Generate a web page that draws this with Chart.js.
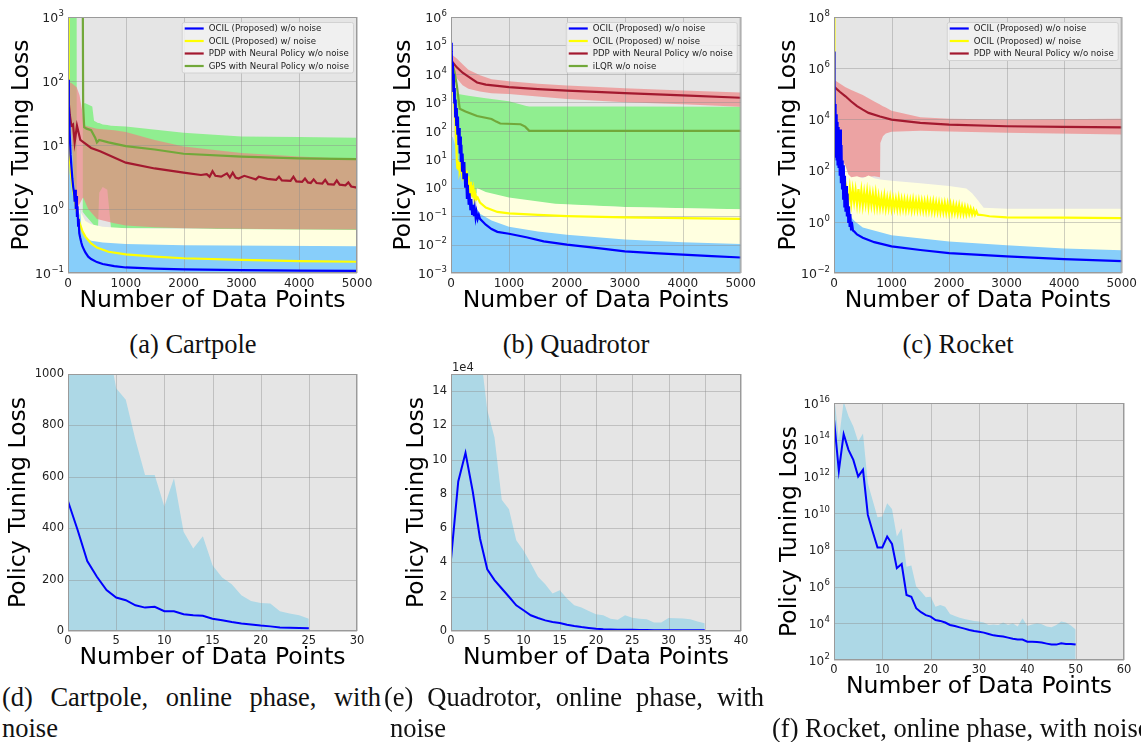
<!DOCTYPE html>
<html>
<head>
<meta charset="utf-8">
<script src="https://cdn.jsdelivr.net/npm/chart.js@4.4.0/dist/chart.umd.min.js"></script>
<style>
body { margin: 0; width: 1141px; height: 742px; background: #fff; position: relative; overflow: hidden; }
canvas { position: absolute; }
.cap { position: absolute; font-family: 'Liberation Serif'; font-size: 26.5px; line-height: 28px; color: #111; white-space: nowrap; }
.just { display: flex; justify-content: space-between; }
</style>
</head>
<body>
<canvas id="pa" width="380" height="320" style="left:0;top:0"></canvas>
<canvas id="pb" width="380" height="320" style="left:380px;top:0"></canvas>
<canvas id="pc" width="381" height="320" style="left:760px;top:0"></canvas>
<canvas id="pd" width="380" height="320" style="left:0;top:360px"></canvas>
<canvas id="pe" width="380" height="320" style="left:380px;top:360px"></canvas>
<canvas id="pf" width="381" height="382" style="left:760px;top:360px"></canvas>

<div class="cap" style="left:0;top:330px;width:386px;text-align:center">(a) Cartpole</div>
<div class="cap" style="left:380px;top:330px;width:392px;text-align:center">(b) Quadrotor</div>
<div class="cap" style="left:760px;top:330px;width:396px;text-align:center">(c) Rocket</div>
<div class="cap just" style="left:2px;top:683px;width:379px"><span>(d)</span><span>Cartpole,</span><span>online</span><span>phase,</span><span>with</span></div>
<div class="cap" style="left:2px;top:714px">noise</div>
<div class="cap just" style="left:384px;top:683px;width:380px"><span>(e)</span><span>Quadrotor,</span><span>online</span><span>phase,</span><span>with</span></div>
<div class="cap" style="left:390px;top:714px">noise</div>
<div class="cap" style="left:772px;top:714px">(f) Rocket, online phase, with noise</div>

<script>
// ---------- (a) Cartpole ----------
var aXTicks = [0, 1000, 2000, 3000, 4000, 5000];
var aYTicks = [0.1, 1, 10, 100, 1000];
var aYExp = ['−1', '0', '1', '2', '3'];
var aLegend = ['OCIL (Proposed) w/o noise', 'OCIL (Proposed) w/ noise', 'PDP with Neural Policy w/o noise', 'GPS with Neural Policy w/o noise'];

var aBlueX = [0, 15, 30, 45, 60, 75, 90, 105, 115, 125, 135, 145, 155, 165, 175, 185, 195, 210, 230, 250, 300, 350, 400, 500, 600, 800, 1000, 1500, 2000, 3000, 4000, 5000];
var aBlueY = [105, 40, 15, 7, 4.5, 3.0, 2.2, 1.8, 1.3, 2.0, 1.0, 1.6, 0.75, 1.1, 0.55, 0.7, 0.42, 0.36, 0.3, 0.26, 0.21, 0.18, 0.165, 0.148, 0.138, 0.128, 0.122, 0.117, 0.114, 0.111, 0.109, 0.108];
var aYellowX = [0, 10, 14, 25, 50, 80, 120, 160, 200, 250, 300, 400, 500, 700, 1000, 1500, 2000, 3000, 4000, 5000];
var aYellowY = [3000, 1500, 40, 8, 3.5, 2.2, 1.3, 0.85, 0.6, 0.45, 0.37, 0.29, 0.25, 0.215, 0.195, 0.18, 0.17, 0.16, 0.153, 0.15];
var aPdpX = [0, 30, 58, 87, 115, 155, 213, 300, 400, 555, 700, 1000, 1500, 2000, 2300, 2400, 2450, 2500, 2550, 2650, 2750, 2800, 2850, 2900, 2950, 3050, 3200, 3250, 3300, 3450, 3600, 3650, 3700, 3850, 3900, 3950, 4050, 4100, 4150, 4200, 4250, 4300, 4400, 4450, 4500, 4600, 4650, 4700, 4800, 4850, 4900, 5000];
var aPdpY = [65, 30, 20, 21, 11, 20, 12, 10.5, 9, 8, 7, 5.3, 4.3, 3.7, 3.4, 3.5, 3.2, 3.9, 3.3, 3.2, 3.6, 3.1, 3.7, 3.1, 3.0, 3.3, 3.0, 2.9, 3.2, 2.95, 2.85, 3.2, 2.8, 2.75, 3.2, 2.7, 2.65, 3.0, 2.6, 2.55, 2.9, 2.55, 2.5, 2.85, 2.45, 2.4, 2.8, 2.4, 2.35, 2.6, 2.25, 2.15];
var aGpsX = [255, 262, 280, 320, 400, 470, 500, 540, 700, 1000, 1500, 2000, 3000, 4000, 5000];
var aGpsY = [3000, 40, 19, 18, 17, 13, 11, 12, 11, 9.6, 8.5, 7.3, 6.6, 6.2, 6.0];

var aBlueBandX = [0, 50, 100, 150, 200, 210, 230, 250, 300, 400, 600, 1000, 2000, 5000];
var aBlueBandHi = [100, 20, 3, 1.2, 0.8, 1.0, 0.55, 0.45, 0.36, 0.32, 0.3, 0.285, 0.272, 0.262];
var aYellowBandX = [0, 10, 30, 60, 100, 150, 200, 250, 300, 400, 600, 1000, 2000, 5000];
var aYellowBandHi = [1000, 30, 8, 3, 1.6, 1.1, 0.95, 0.8, 0.65, 0.58, 0.53, 0.5, 0.49, 0.47];
var aPdpBandX = [0, 50, 150, 200, 255, 265, 350, 500, 800, 1000, 1500, 2000, 3000, 4000, 5000];
var aPdpBandHi = [90, 95, 80, 60, 30, 20.5, 19.5, 18, 17, 16, 12, 9.5, 7.5, 6.6, 6.0];
var aPdpBandLo = [1, 1, 1, 1.2, 1.5, 1.5, 1.0, 0.7, 0.6, 0.55, 0.52, 0.5, 0.49, 0.48, 0.48];
var aGpsBandX = [0, 150, 151, 254, 256, 300, 420, 450, 519, 540, 600, 680, 744, 1000, 2000, 3000, 4000, 5000];
var aGpsBandHi = [5000, 5000, 1, 1, 45, 45, 40, 24, 22, 22, 21, 20.5, 20, 19.5, 15.5, 13.6, 13.3, 13];
var aGpsBandLo = [0.5, 0.5, 1, 1, 0.9, 0.8, 0.6, 0.55, 0.5, 1.8, 2.2, 2.0, 0.5, 0.5, 0.5, 0.48, 0.47, 0.47];

// ---------- (b) Quadrotor ----------
var bXTicks = [0, 1000, 2000, 3000, 4000, 5000];
var bYTicks = [1e-3, 1e-2, 1e-1, 1, 10, 100, 1e3, 1e4, 1e5, 1e6];
var bYExp = ['−3', '−2', '−1', '0', '1', '2', '3', '4', '5', '6'];
var bLegend = ['OCIL (Proposed) w/o noise', 'OCIL (Proposed) w/ noise', 'PDP with Neural Policy w/o noise', 'iLQR w/o noise'];

var bBlueX = [0, 8, 16, 24, 32, 40, 48, 56, 64, 72, 80, 90, 100, 110, 120, 130, 140, 150, 160, 170, 180, 190, 200, 215, 230, 245, 260, 275, 290, 305, 320, 335, 350, 365, 380, 395, 410, 425, 440, 460, 480, 500, 550, 600, 700, 800, 1000, 1300, 1600, 2000, 2500, 3000, 3500, 4000, 4500, 5000];
var bBlueY = [125000, 20000, 63000, 8000, 25000, 2500, 10000, 1000, 3200, 320, 1260, 160, 630, 80, 320, 32, 126, 16, 63, 8, 32, 4, 16, 2, 8, 1, 3.2, 0.4, 1.26, 0.25, 0.63, 0.16, 0.4, 0.11, 0.25, 0.1, 0.18, 0.09, 0.14, 0.08, 0.11, 0.08, 0.063, 0.05, 0.035, 0.028, 0.024, 0.018, 0.013, 0.01, 0.0076, 0.0058, 0.005, 0.0044, 0.0039, 0.0035];
var bYellowX = [0, 40, 80, 100, 110, 120, 130, 140, 150, 170, 190, 210, 225, 240, 255, 270, 285, 300, 315, 330, 345, 360, 375, 390, 405, 420, 440, 460, 500, 600, 800, 1000, 1500, 2000, 3000, 4000, 5000];
var bYellowY = [30000, 3000, 160, 9, 5, 9, 4, 8, 4, 6, 3, 7, 2, 5, 1.2, 4, 0.8, 2.5, 0.6, 1.6, 0.5, 1.2, 0.45, 0.8, 0.4, 0.6, 0.4, 0.45, 0.3, 0.2, 0.14, 0.125, 0.11, 0.1, 0.09, 0.085, 0.08];
var bPdpX = [0, 100, 200, 300, 450, 600, 800, 1000, 1500, 2000, 3000, 4000, 5000];
var bPdpY = [30000, 17000, 11000, 8000, 5000, 4200, 3800, 3400, 2900, 2600, 2100, 1750, 1450];
var bIlqrX = [0, 30, 60, 100, 150, 250, 450, 700, 780, 850, 1200, 1280, 1350, 5000];
var bIlqrY = [40000, 20000, 12000, 4000, 600, 480, 330, 260, 210, 180, 170, 140, 100, 100];

var bBlueBandX = [0, 30, 100, 200, 300, 400, 500, 700, 1000, 1500, 2000, 3000, 4000, 5000];
var bBlueBandHi = [60, 60, 20, 3, 0.6, 0.25, 0.12, 0.07, 0.042, 0.029, 0.022, 0.015, 0.012, 0.0105];
var bYellowBandX = [440, 600, 1000, 1800, 3000, 5000];
var bYellowBandHi = [1.0, 0.7, 0.45, 0.27, 0.21, 0.175];
var bPdpBandX = [0, 100, 200, 300, 500, 700, 1000, 1500, 2000, 3000, 4000, 5000];
var bPdpBandHi = [50000, 35000, 22000, 14000, 9000, 6500, 5500, 4500, 3900, 3100, 2600, 2200];
var bPdpBandLo = [15000, 7000, 4000, 3000, 2400, 2100, 1950, 1600, 1300, 1000, 850, 700];
var bIlqrBandX = [60, 100, 300, 600, 1000, 1300, 1350, 2000, 3000, 5000];
var bIlqrBandHi = [3000, 2000, 1700, 1400, 1100, 750, 720, 715, 710, 700];
var bIlqrBandLo = [1, 1, 0.8, 0.5, 0.35, 0.3, 0.29, 0.25, 0.21, 0.17];

// ---------- (c) Rocket ----------
var cXTicks = [0, 1000, 2000, 3000, 4000, 5000];
var cYTicks = [1e-2, 1, 1e2, 1e4, 1e6, 1e8];
var cYExp = ['−2', '0', '2', '4', '6', '8'];
var cLegend = ['OCIL (Proposed) w/o noise', 'OCIL (Proposed) w/ noise', 'PDP with Neural Policy w/o noise'];

var cBlueX = [0, 6, 12, 18, 24, 30, 38, 46, 54, 62, 70, 80, 90, 100, 110, 120, 130, 140, 150, 160, 170, 180, 190, 200, 212, 224, 236, 248, 260, 272, 284, 296, 310, 330, 350, 400, 500, 700, 1000, 1500, 2000, 3000, 4000, 5000];
var cBlueY = [4.5e6, 3200, 4e5, 1000, 40000, 320, 16000, 250, 8000, 160, 5000, 126, 3200, 63, 4000, 32, 1000, 20, 250, 8, 160, 4, 63, 2.5, 25, 1.6, 12.6, 1, 4, 0.63, 2, 0.5, 1, 0.45, 0.42, 0.32, 0.24, 0.16, 0.11, 0.079, 0.06, 0.045, 0.035, 0.029];
var cYellowX = [0, 5, 10, 30, 60, 100, 150, 200, 225,
    250, 275, 300, 325, 350, 375, 400, 425, 450, 475,
    500, 525, 550, 575, 600, 625, 650, 675, 700, 725,
    750, 775, 800, 825, 850, 875, 900, 925, 950, 975,
    1000, 1025, 1050, 1075, 1100, 1125, 1150, 1175, 1200, 1225,
    1250, 1275, 1300, 1325, 1350, 1375, 1400, 1425, 1450, 1475,
    1500, 1525, 1550, 1575, 1600, 1625, 1650, 1675, 1700, 1725,
    1750, 1775, 1800, 1825, 1850, 1875, 1900, 1925, 1950, 1975,
    2000, 2025, 2050, 2075, 2100, 2125, 2150, 2175, 2200, 2225,
    2250, 2275, 2300, 2325, 2350, 2375, 2400, 2425, 2450, 2475,
    2500, 2600, 2700, 3000, 4000, 5000];
var cYellowY = [1e9, 1e7, 3e4, 2000, 800, 300, 120, 30, 12,
    6, 20, 5.5, 18, 6, 17, 5, 19, 5, 16,
    4.5, 14, 5, 15, 4.2, 13, 4.5, 12, 4, 12.5,
    3.8, 10, 3.6, 9, 3.7, 10, 3.4, 8.5, 3.5, 8.8,
    3.3, 8, 3.4, 7.6, 3.2, 8.2, 3.1, 7.4, 3.2, 7.2,
    3.0, 7.0, 3.1, 6.8, 2.9, 7.2, 3.0, 6.6, 2.9, 6.7,
    2.9, 6.5, 2.8, 6.2, 2.7, 6.4, 2.7, 5.9, 2.6, 6.0,
    2.5, 5.6, 2.5, 5.5, 2.4, 5.2, 2.4, 5.3, 2.3, 5.0,
    2.2, 4.8, 2.2, 4.6, 2.2, 4.3, 2.1, 4.4, 2.1, 4.0,
    2.05, 3.8, 2.0, 3.6, 2.0, 3.3, 1.95, 3.0, 1.9, 2.6,
    1.9, 1.8, 1.65, 1.5, 1.45, 1.4];
var cPdpX = [0, 100, 200, 300, 400, 500, 600, 800, 1000, 1500, 2000, 3000, 4000, 5000];
var cPdpY = [190000, 120000, 80000, 50000, 33000, 24000, 18000, 13000, 9800, 7300, 6300, 5400, 5100, 4900];

var cBlueBandX = [0, 20, 50, 100, 150, 200, 250, 300, 350, 500, 1000, 2000, 3000, 4000, 5000];
var cBlueBandHi = [2e5, 5e4, 1e4, 1e3, 100, 20, 5, 1.5, 1.1, 0.6, 0.3, 0.17, 0.12, 0.09, 0.077];
var cYellowBandX = [0, 8, 30, 100, 150, 200, 250, 300, 400, 500, 600, 700, 800, 1000, 1500, 2000, 2300, 2400, 2500, 2600, 3000, 5000];
var cYellowBandHi = [1e9, 1e5, 500, 300, 250, 150, 70, 55, 60, 50, 65, 50, 45, 40, 32, 25, 20, 13, 7, 3.5, 3.2, 3.2];
var cPdpBandX = [0, 100, 200, 300, 500, 700, 800, 805, 850, 900, 1000, 1500, 2000, 3000, 5000];
var cPdpBandHi = [350000, 250000, 180000, 140000, 90000, 50000, 38000, 37500, 33000, 29000, 22000, 12000, 10500, 10000, 10500];
var cPdpBandLo = [1000, 200, 60, 50, 55, 60, 55, 1200, 2200, 2800, 3300, 3600, 3400, 3000, 2600];

// ---------- (d) Cartpole, online ----------
var dXTicks = [0, 5, 10, 15, 20, 25, 30];
var dYTicks = [0, 200, 400, 600, 800, 1000];
var dX = [0, 1, 2, 3, 4, 5, 6, 7, 8, 9, 10, 11, 12, 13, 14, 15, 16, 17, 18, 19, 20, 21, 22, 23, 24, 25];
var dMean = [505, 393, 272, 211, 159, 130, 120, 100, 91, 94, 77, 77, 65, 61, 59, 48, 42, 35, 29, 25, 21, 18, 14, 13, 12, 11];
var dUpper = [1800, 1600, 1450, 1300, 1150, 945, 900, 744, 607, 607, 484, 594, 386, 321, 369, 256, 208, 182, 139, 117, 109, 107, 77, 68, 61, 48];

// ---------- (e) Quadrotor, online (values in units of 1e4) ----------
var eXTicks = [0, 5, 10, 15, 20, 25, 30, 35, 40];
var eYTicks = [0, 2, 4, 6, 8, 10, 12, 14];
var eX = [0, 1, 2, 3, 4, 5, 6, 7, 8, 9, 10, 11, 12, 13, 14, 15, 16, 17, 18, 19, 20, 21, 22, 23, 24, 25, 26, 27, 28, 29, 30, 31, 32, 33, 34, 35];
var eMean = [4.2, 8.73, 10.4, 8.14, 5.4, 3.6, 2.97, 2.48, 2.0, 1.5, 1.21, 0.92, 0.76, 0.62, 0.53, 0.47, 0.37, 0.29, 0.23, 0.18, 0.13, 0.1, 0.09, 0.08, 0.07, 0.07, 0.06, 0.06, 0.05, 0.05, 0.05, 0.05, 0.04, 0.04, 0.04, 0.04];
var eUpper = [20, 19, 18, 17, 16.5, 12.9, 11.3, 7.66, 7.1, 5.3, 4.7, 3.95, 3.16, 2.73, 2.19, 2.38, 1.9, 1.5, 1.37, 1.17, 0.98, 0.92, 0.72, 0.66, 0.92, 0.78, 0.72, 0.68, 0.49, 0.49, 0.76, 0.75, 0.73, 0.68, 0.55, 0.45];

// ---------- (f) Rocket, online ----------
var fXTicks = [0, 10, 20, 30, 40, 50, 60];
var fYTicks = [1e2, 1e4, 1e6, 1e8, 1e10, 1e12, 1e14, 1e16];
var fYExp = ['2', '4', '6', '8', '10', '12', '14', '16'];
var fX = [0, 1, 2, 3, 4, 5, 6, 7, 8, 9, 10, 11, 12, 13, 14, 15, 16, 17, 18, 19, 20, 21, 22, 23, 24, 25, 26, 27, 28, 29, 30, 31, 32, 33, 34, 35, 36, 37, 38, 39, 40, 41, 42, 43, 44, 45, 46, 47, 48, 49, 50];
var fMean = [1.3e15, 2e12, 2e14, 2.8e13, 8e12, 1e12, 2.3e12, 8e9, 1e9, 1.35e8, 1.35e8, 5.3e8, 2.1e8, 1e7, 1.7e7, 3.5e5, 2.8e5, 6.6e4, 4e4, 2.8e4, 2.3e4, 1.5e4, 1.35e4, 1.1e4, 8.1e3, 7.1e3, 6e3, 5.1e3, 4.3e3, 3.8e3, 3.5e3, 3.1e3, 2.6e3, 2.2e3, 2.05e3, 1.9e3, 1.65e3, 1.45e3, 1.3e3, 1.3e3, 1e3, 1e3, 950, 890, 780, 690, 690, 810, 750, 750, 690];
var fUpper = [3e16, 1e14, 1.2e16, 1.9e15, 5.3e14, 8e13, 2.2e14, 4.3e11, 5e10, 6e9, 6.5e9, 3.5e10, 1.7e10, 5.4e8, 1.5e9, 1.2e7, 1.4e7, 1e6, 5.4e5, 2.6e5, 2.8e5, 8e4, 1e5, 8e4, 3.2e4, 2.5e4, 2e4, 1.7e4, 1.5e4, 1.35e4, 1.25e4, 1.1e4, 8e3, 8.5e3, 8e3, 1.1e4, 8e3, 1e4, 6.6e3, 1.9e4, 7.2e3, 8.5e3, 1e4, 9e3, 6.6e3, 6e3, 8e3, 1.25e4, 1.1e4, 7.5e3, 4.6e3];

// colours
var BLUE = '#0000ff', YELLOW = '#ffff00', PDP = '#a3192f', GPS = '#72a83a';
var BLUE_BAND = '#87cefa', YELLOW_BAND = '#ffffe0', PDP_BAND = 'rgba(240,128,128,0.65)', GPS_BAND = '#90ee90', ONLINE_BAND = '#add8e6';

Chart.defaults.font.family = 'DejaVu Sans';
Chart.defaults.color = '#222';

function pts(xs, ys) {
    return xs.map(function (x, i) { return {x: x, y: ys[i]}; });
}
function line(xs, ys, color, w) {
    return {data: pts(xs, ys), borderColor: color, borderWidth: w, pointRadius: 0, fill: false, tension: 0};
}
function band(xs, ys, color, target) {
    return {data: pts(xs, ys), borderColor: 'rgba(0,0,0,0)', borderWidth: 0, backgroundColor: color, pointRadius: 0, fill: target, tension: 0};
}
function edge(xs, ys) {
    return {data: pts(xs, ys), borderColor: 'rgba(0,0,0,0)', borderWidth: 0, pointRadius: 0, fill: false, tension: 0};
}

// grey panel, grid above the bands, frame, legend box, 10^n labels, offset text
var decor = {
    id: 'decor',
    beforeDraw: function (chart) {
        var ctx = chart.ctx, a = chart.chartArea;
        ctx.save();
        ctx.fillStyle = '#e5e5e5';
        ctx.fillRect(a.left, a.top, a.right - a.left, a.bottom - a.top);
        ctx.restore();
    },
    beforeDatasetDraw: function (chart, args, o) {
        if (args.index !== o.nLines - 1) return;
        var ctx = chart.ctx, a = chart.chartArea, sx = chart.scales.x, sy = chart.scales.y;
        ctx.save();
        ctx.strokeStyle = 'rgba(140,140,140,0.42)';
        ctx.lineWidth = 1;
        ctx.beginPath();
        o.xTicks.forEach(function (v) {
            var px = Math.round(sx.getPixelForValue(v)) + 0.5;
            ctx.moveTo(px, a.top); ctx.lineTo(px, a.bottom);
        });
        o.yTicks.forEach(function (v) {
            var py = Math.round(sy.getPixelForValue(v)) + 0.5;
            ctx.moveTo(a.left, py); ctx.lineTo(a.right, py);
        });
        ctx.stroke();
        ctx.restore();
    },
    afterDraw: function (chart, args, o) {
        var ctx = chart.ctx, a = chart.chartArea, sy = chart.scales.y;
        ctx.save();
        ctx.strokeStyle = '#9a9a9a';
        ctx.lineWidth = 1;
        ctx.strokeRect(a.left + 0.5, a.top + 0.5, a.right - a.left - 1, a.bottom - a.top - 1);
        if (o.yExp) {
            o.yTicks.forEach(function (v, i) {
                var py = sy.getPixelForValue(v);
                ctx.fillStyle = '#222';
                ctx.textAlign = 'right';
                ctx.textBaseline = 'middle';
                ctx.font = o.expFont + 'px "DejaVu Sans"';
                var ew = ctx.measureText(o.yExp[i]).width;
                ctx.fillText(o.yExp[i], a.left - 4, py - 3.5);
                ctx.font = o.baseFont + 'px "DejaVu Sans"';
                ctx.fillText('10', a.left - 4.5 - ew, py + 1.5);
            });
        }
        if (o.labels) {
            ctx.textAlign = 'left';
            ctx.font = '8.6px "DejaVu Sans"';
            var tw = 0;
            o.labels.forEach(function (t) { tw = Math.max(tw, ctx.measureText(t).width); });
            var w = 2 + 19 + 6 + tw + 4, h = 12.5 * o.labels.length + 0.5;
            var x0 = a.right - 4 - w, y0 = a.top + 5;
            ctx.fillStyle = 'rgba(242,242,242,0.85)';
            ctx.strokeStyle = '#d2d2d2';
            ctx.beginPath();
            ctx.roundRect(x0 + 0.5, y0 + 0.5, w, h, 2);
            ctx.fill();
            ctx.stroke();
            o.labels.forEach(function (t, i) {
                var cy = y0 + 6.5 + i * 12.5;
                ctx.strokeStyle = o.colors[i];
                ctx.lineWidth = 2.2;
                ctx.beginPath();
                ctx.moveTo(x0 + 3, cy);
                ctx.lineTo(x0 + 22, cy);
                ctx.stroke();
                ctx.fillStyle = '#222';
                ctx.textBaseline = 'middle';
                ctx.fillText(t, x0 + 27, cy + 0.5);
            });
        }
        if (o.note) {
            ctx.textAlign = 'left';
            ctx.font = '11.5px "DejaVu Sans"';
            ctx.fillStyle = '#222';
            ctx.textBaseline = 'bottom';
            ctx.fillText(o.note, a.left + 1, a.top);
        }
        ctx.restore();
    }
};

function panel(id, p) {
    var yAxis = {
        type: p.yType, min: p.yMin, max: p.yMax,
        afterFit: function (s) { s.width = p.yw; },
        afterBuildTicks: function (s) { s.ticks = p.yTicks.map(function (v) { return {value: v}; }); },
        ticks: {
            display: !p.yExp, autoSkip: false, padding: 4, color: '#222', font: {size: p.yFont},
            callback: function (v, i) { return String(p.yTicks[i]); }
        },
        grid: {display: false, drawTicks: false},
        border: {display: false},
        title: {display: true, text: 'Policy Tuning Loss', color: '#000', font: {size: 23.5}, padding: {top: p.yTitlePad, bottom: 0}}
    };
    var xAxis = {
        type: 'linear', min: p.xTicks[0], max: p.xTicks[p.xTicks.length - 1],
        afterFit: function (s) { s.height = p.xh; },
        afterBuildTicks: function (s) { s.ticks = p.xTicks.map(function (v) { return {value: v}; }); },
        ticks: {
            autoSkip: false, maxRotation: 0, padding: p.xTickPad, color: '#222', font: {size: p.xFont},
            callback: function (v, i) { return String(p.xTicks[i]); }
        },
        grid: {display: false, drawTicks: false},
        border: {display: false},
        title: {display: true, text: 'Number of Data Points', color: '#000', font: {size: 23.5}, padding: {top: 0, bottom: p.xTitlePad}}
    };
    return new Chart(document.getElementById(id), {
        type: 'line',
        data: {datasets: p.datasets},
        options: {
            responsive: false, animation: false, events: [],
            layout: {padding: {left: 0, top: p.top, right: p.right, bottom: 0}},
            plugins: {
                legend: {display: false}, tooltip: {enabled: false},
                decor: {labels: p.legend, colors: p.colors, note: p.note, nLines: p.nLines, xTicks: p.xTicks, yTicks: p.yTicks,
                        yExp: p.yExp, baseFont: p.yFont, expFont: p.expFont}
            },
            scales: {x: xAxis, y: yAxis}
        },
        plugins: [decor]
    });
}

panel('pa', {
    yType: 'logarithmic', yMin: 0.1, yMax: 1000, yTicks: aYTicks, yExp: aYExp, xTicks: aXTicks,
    yw: 68, xh: 47, top: 17, right: 23, yTitlePad: 8, xTitlePad: 5, xTickPad: 4, yFont: 12.5, expFont: 8.5, xFont: 12,
    legend: aLegend, colors: [BLUE, YELLOW, PDP, GPS], nLines: 4,
    datasets: [
        line(aBlueX, aBlueY, BLUE, 2.2),
        line(aYellowX, aYellowY, YELLOW, 2.2),
        line(aPdpX, aPdpY, PDP, 2.2),
        line(aGpsX, aGpsY, GPS, 2.2),
        band(aBlueBandX, aBlueBandHi, BLUE_BAND, 'start'),
        band(aYellowBandX, aYellowBandHi, YELLOW_BAND, 'start'),
        band(aPdpBandX, aPdpBandHi, PDP_BAND, 7),
        edge(aPdpBandX, aPdpBandLo),
        band(aGpsBandX, aGpsBandHi, GPS_BAND, 9),
        edge(aGpsBandX, aGpsBandLo)
    ]
});

panel('pb', {
    yType: 'logarithmic', yMin: 1e-3, yMax: 1e6, yTicks: bYTicks, yExp: bYExp, xTicks: bXTicks,
    yw: 71, xh: 47, top: 17, right: 19, yTitlePad: 10, xTitlePad: 5, xTickPad: 4, yFont: 12.5, expFont: 8.5, xFont: 12,
    legend: bLegend, colors: [BLUE, YELLOW, PDP, GPS], nLines: 4,
    datasets: [
        line(bBlueX, bBlueY, BLUE, 2.2),
        line(bYellowX, bYellowY, YELLOW, 2.2),
        line(bPdpX, bPdpY, PDP, 2.2),
        line(bIlqrX, bIlqrY, GPS, 2.2),
        band(bBlueBandX, bBlueBandHi, BLUE_BAND, 'start'),
        band(bYellowBandX, bYellowBandHi, YELLOW_BAND, 'start'),
        band(bPdpBandX, bPdpBandHi, PDP_BAND, 7),
        edge(bPdpBandX, bPdpBandLo),
        band(bIlqrBandX, bIlqrBandHi, GPS_BAND, 9),
        edge(bIlqrBandX, bIlqrBandLo)
    ]
});

panel('pc', {
    yType: 'logarithmic', yMin: 1e-2, yMax: 1e8, yTicks: cYTicks, yExp: cYExp, xTicks: cXTicks,
    yw: 74, xh: 47, top: 17, right: 17, yTitlePad: 15, xTitlePad: 5, xTickPad: 4, yFont: 12.5, expFont: 8.5, xFont: 12,
    legend: cLegend, colors: [BLUE, YELLOW, PDP], nLines: 3,
    datasets: [
        line(cBlueX, cBlueY, BLUE, 2.2),
        line(cYellowX, cYellowY, YELLOW, 2.2),
        line(cPdpX, cPdpY, PDP, 2.2),
        band(cBlueBandX, cBlueBandHi, BLUE_BAND, 'start'),
        band(cYellowBandX, cYellowBandHi, YELLOW_BAND, 'start'),
        band(cPdpBandX, cPdpBandHi, PDP_BAND, 6),
        edge(cPdpBandX, cPdpBandLo)
    ]
});

panel('pd', {
    yType: 'linear', yMin: 0, yMax: 1000, yTicks: dYTicks, xTicks: dXTicks, nLines: 1,
    yw: 68, xh: 49, top: 14, right: 23, yTitlePad: 5, xTitlePad: 8, xTickPad: 3, yFont: 11.5, xFont: 11.5,
    datasets: [
        line(dX, dMean, BLUE, 2),
        band(dX, dUpper, ONLINE_BAND, 'origin')
    ]
});

panel('pe', {
    yType: 'linear', yMin: 0, yMax: 15, yTicks: eYTicks, xTicks: eXTicks, note: '1e4', nLines: 1,
    yw: 71, xh: 49, top: 14, right: 19, yTitlePad: 23, xTitlePad: 8, xTickPad: 3, yFont: 11.5, xFont: 11.5,
    datasets: [
        line(eX, eMean, BLUE, 2),
        band(eX, eUpper, ONLINE_BAND, 'origin')
    ]
});

panel('pf', {
    yType: 'logarithmic', yMin: 1e2, yMax: 1e16, yTicks: fYTicks, yExp: fYExp, xTicks: fXTicks, nLines: 1,
    yw: 74, xh: 82, top: 43, right: 17, yTitlePad: 16, xTitlePad: 41, xTickPad: 3, yFont: 12, expFont: 8.5, xFont: 11.5,
    datasets: [
        line(fX, fMean, BLUE, 2),
        band(fX, fUpper, ONLINE_BAND, 'start')
    ]
});
</script>
</body>
</html>
